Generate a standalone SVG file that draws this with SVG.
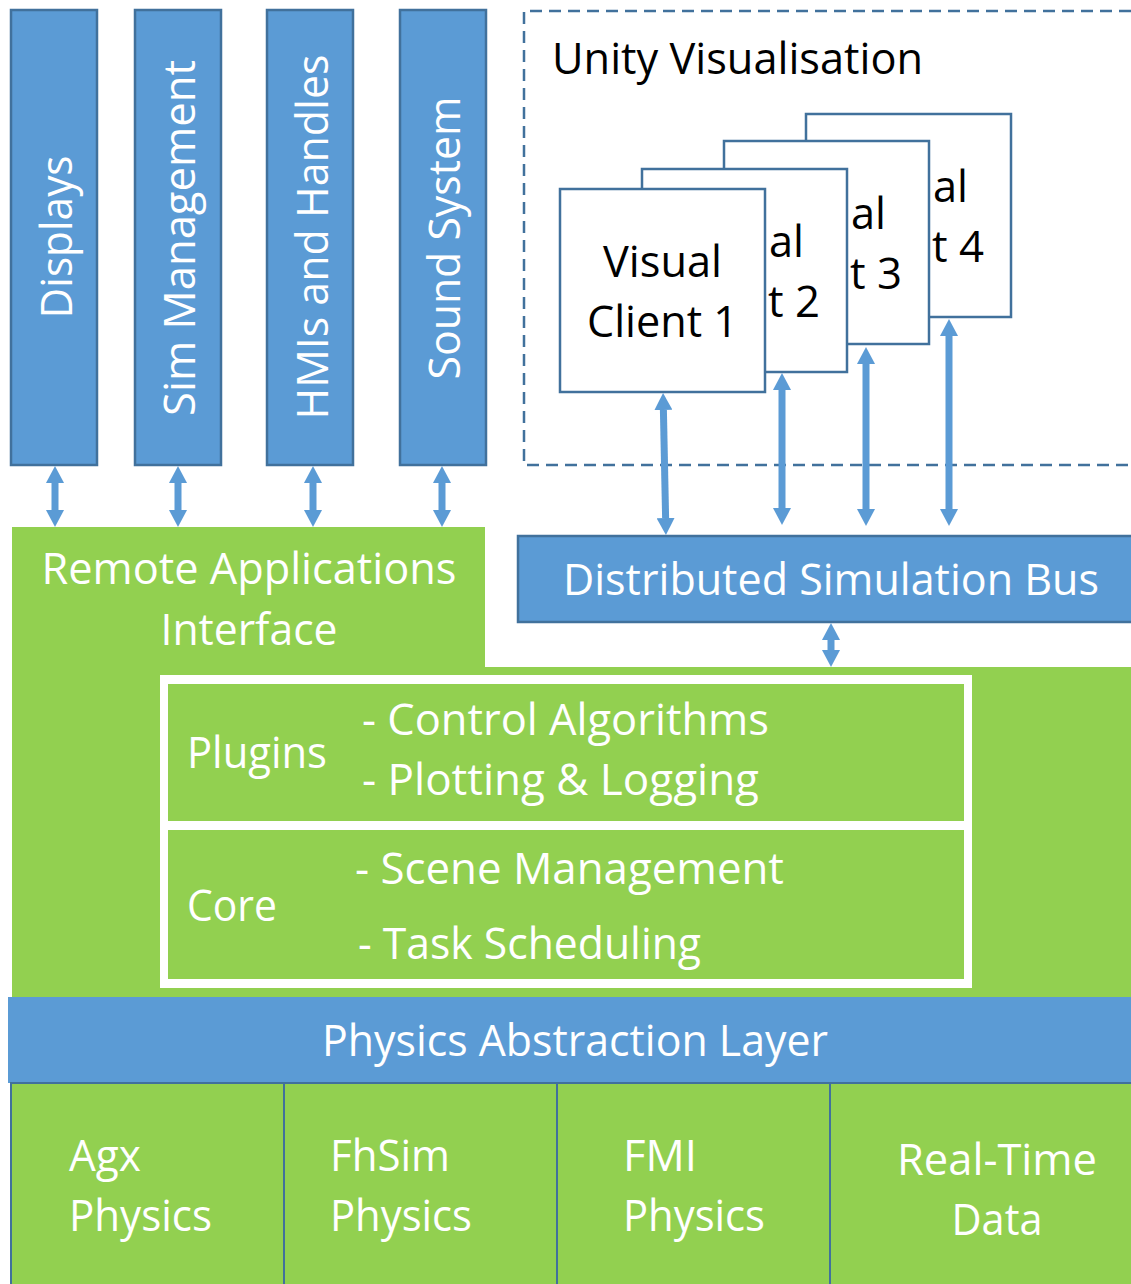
<svg xmlns="http://www.w3.org/2000/svg" width="1131" height="1284" viewBox="0 0 1131 1284">
<style>
.bluebox{fill:#5B9BD5;stroke:#41719C;stroke-width:2.5}
.green{fill:#92D050}
.client{fill:#ffffff;stroke:#41719C;stroke-width:2.5}
.cell{fill:#92D050;stroke:#41719C;stroke-width:2}
.wt{font-family:"Open Sans","Liberation Sans",sans-serif;font-size:44px;fill:#ffffff}
.bt{font-family:"Open Sans","Liberation Sans",sans-serif;font-size:44px;fill:#000000}
.conn{stroke:#5B9BD5;stroke-width:7;fill:none;marker-start:url(#ah);marker-end:url(#ah)}
</style>
<defs>
<marker id="ah" viewBox="0 0 17 18" markerWidth="17" markerHeight="18" refX="0" refY="9" orient="auto-start-reverse" markerUnits="userSpaceOnUse">
<path d="M0,0 L17,9 L0,18 z" fill="#5B9BD5"/>
</marker>
</defs>
<rect width="1131" height="1284" fill="#ffffff"/>

<g id="displays">
<rect class="bluebox" x="11" y="10" width="86" height="455"/>
<text class="wt" text-anchor="middle" transform="translate(72,237) rotate(-90)" textLength="163" lengthAdjust="spacingAndGlyphs">Displays</text>
</g>
<g id="sim-management">
<rect class="bluebox" x="135" y="10" width="86" height="455"/>
<text class="wt" text-anchor="middle" transform="translate(195,238) rotate(-90)" textLength="356" lengthAdjust="spacingAndGlyphs">Sim Management</text>
</g>
<g id="hmis">
<rect class="bluebox" x="267" y="10" width="86" height="455"/>
<text class="wt" text-anchor="middle" transform="translate(328,237) rotate(-90)" textLength="365" lengthAdjust="spacingAndGlyphs">HMIs and Handles</text>
</g>
<g id="sound-system">
<rect class="bluebox" x="400" y="10" width="86" height="455"/>
<text class="wt" text-anchor="middle" transform="translate(460,238) rotate(-90)" textLength="283" lengthAdjust="spacingAndGlyphs">Sound System</text>
</g>

<g id="unity-visualisation">
<path d="M1131,11 L524,11 L524,465 L1131,465" fill="none" stroke="#41719C" stroke-width="2.5" stroke-dasharray="12,7"/>
<text class="bt" x="552" y="74" textLength="371" lengthAdjust="spacingAndGlyphs">Unity Visualisation</text>
</g>

<g id="visual-client-4">
<rect class="client" x="806" y="114" width="205" height="203"/>
<text class="bt" text-anchor="end" x="968" y="202" textLength="35" lengthAdjust="spacingAndGlyphs">al</text>
<text class="bt" text-anchor="end" x="984" y="262" textLength="52" lengthAdjust="spacingAndGlyphs">t 4</text>
</g>
<g id="visual-client-3">
<rect class="client" x="724" y="141" width="205" height="203"/>
<text class="bt" text-anchor="end" x="886" y="229" textLength="35" lengthAdjust="spacingAndGlyphs">al</text>
<text class="bt" text-anchor="end" x="902" y="289" textLength="52" lengthAdjust="spacingAndGlyphs">t 3</text>
</g>
<g id="visual-client-2">
<rect class="client" x="642" y="169" width="205" height="203"/>
<text class="bt" text-anchor="end" x="804" y="257" textLength="35" lengthAdjust="spacingAndGlyphs">al</text>
<text class="bt" text-anchor="end" x="820" y="317" textLength="52" lengthAdjust="spacingAndGlyphs">t 2</text>
</g>
<g id="visual-client-1">
<rect class="client" x="560" y="189" width="205" height="203"/>
<text class="bt" text-anchor="middle" x="662.5" y="277" textLength="119" lengthAdjust="spacingAndGlyphs">Visual</text>
<text class="bt" text-anchor="middle" x="662.5" y="337" textLength="151" lengthAdjust="spacingAndGlyphs">Client 1</text>
</g>

<g id="distributed-simulation-bus">
<rect class="bluebox" x="518" y="536" width="620" height="86"/>
<text class="wt" text-anchor="middle" x="831" y="595" textLength="536" lengthAdjust="spacingAndGlyphs">Distributed Simulation Bus</text>
</g>

<g id="remote-applications-interface">
<path class="green" d="M12,527 L485,527 L485,667 L1131,667 L1131,997 L12,997 z"/>
<text class="wt" text-anchor="middle" x="249" y="584" textLength="415" lengthAdjust="spacingAndGlyphs">Remote Applications</text>
<text class="wt" text-anchor="middle" x="249" y="645" textLength="177" lengthAdjust="spacingAndGlyphs">Interface</text>
</g>

<g id="plugins-core-frame">
<rect x="160" y="675" width="812" height="313" fill="#ffffff"/>
</g>
<g id="plugins">
<rect class="green" x="168" y="684" width="796" height="137"/>
<text class="wt" x="187" y="768" textLength="140" lengthAdjust="spacingAndGlyphs">Plugins</text>
<text class="wt" x="362" y="735" textLength="407" lengthAdjust="spacingAndGlyphs">- Control Algorithms</text>
<text class="wt" x="362" y="795" textLength="397" lengthAdjust="spacingAndGlyphs">- Plotting &amp; Logging</text>
</g>
<g id="core">
<rect class="green" x="168" y="830" width="796" height="149"/>
<text class="wt" x="187" y="921" textLength="90" lengthAdjust="spacingAndGlyphs">Core</text>
<text class="wt" x="355" y="884" textLength="429" lengthAdjust="spacingAndGlyphs">- Scene Management</text>
<text class="wt" x="358" y="959" textLength="343" lengthAdjust="spacingAndGlyphs">- Task Scheduling</text>
</g>

<g id="physics-abstraction-layer">
<rect x="8" y="997" width="1123" height="86" fill="#5B9BD5"/>
<text class="wt" text-anchor="middle" x="575" y="1056" textLength="506" lengthAdjust="spacingAndGlyphs">Physics Abstraction Layer</text>
</g>

<g id="agx-physics">
<rect class="cell" x="11" y="1083" width="273" height="210"/>
<text class="wt" x="69" y="1171" textLength="72" lengthAdjust="spacingAndGlyphs">Agx</text>
<text class="wt" x="69" y="1231" textLength="143" lengthAdjust="spacingAndGlyphs">Physics</text>
</g>
<g id="fhsim-physics">
<rect class="cell" x="284" y="1083" width="273" height="210"/>
<text class="wt" x="330" y="1171" textLength="120" lengthAdjust="spacingAndGlyphs">FhSim</text>
<text class="wt" x="330" y="1231" textLength="142" lengthAdjust="spacingAndGlyphs">Physics</text>
</g>
<g id="fmi-physics">
<rect class="cell" x="557" y="1083" width="273" height="210"/>
<text class="wt" x="623" y="1171" textLength="74" lengthAdjust="spacingAndGlyphs">FMI</text>
<text class="wt" x="623" y="1231" textLength="142" lengthAdjust="spacingAndGlyphs">Physics</text>
</g>
<g id="real-time-data">
<rect class="cell" x="830" y="1083" width="310" height="210"/>
<text class="wt" text-anchor="middle" x="997" y="1175" textLength="200" lengthAdjust="spacingAndGlyphs">Real-Time</text>
<text class="wt" text-anchor="middle" x="997" y="1235" textLength="91" lengthAdjust="spacingAndGlyphs">Data</text>
</g>

<g id="connectors">
<line class="conn" x1="55" y1="483" x2="55" y2="510"/>
<line class="conn" x1="178" y1="483" x2="178" y2="510"/>
<line class="conn" x1="313" y1="483" x2="313" y2="510"/>
<line class="conn" x1="442" y1="483" x2="442" y2="510"/>
<line class="conn" x1="663.4" y1="410" x2="665.6" y2="518"/>
<line class="conn" x1="782" y1="390" x2="782" y2="508"/>
<line class="conn" x1="866" y1="364" x2="866" y2="509"/>
<line class="conn" x1="949" y1="336" x2="949" y2="509"/>
<line class="conn" x1="831" y1="640" x2="831" y2="650"/>
</g>
</svg>
